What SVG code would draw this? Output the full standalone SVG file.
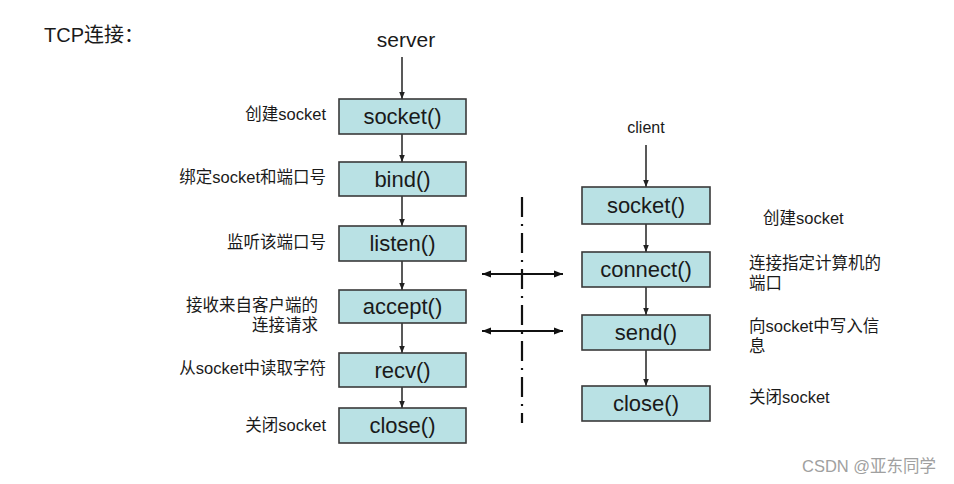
<svg xmlns="http://www.w3.org/2000/svg" width="954" height="484" viewBox="0 0 954 484">
<defs>
<style>
.box{fill:#b9e1e4;stroke:#3a3a3a;stroke-width:1.6}
.bt{font-family:"Liberation Sans","Noto Sans CJK SC",sans-serif;font-size:22px;fill:#1a1a1a;text-anchor:middle}
.lb{font-family:"Liberation Sans","Noto Sans CJK SC",sans-serif;font-size:16.5px;fill:#1a1a1a}
.r{text-anchor:end}
.ln{stroke:#222;stroke-width:1.5;fill:none}
.hz{stroke:#111;stroke-width:2.2;fill:none}
</style>
<marker id="ah" viewBox="0 0 10 10" refX="10" refY="5" markerWidth="7" markerHeight="7" orient="auto-start-reverse" markerUnits="userSpaceOnUse">
<path d="M0,1 L10,5 L0,9 z" fill="#222"/>
</marker>
<marker id="ah2" viewBox="0 0 10 10" refX="10" refY="5" markerWidth="9" markerHeight="9" orient="auto-start-reverse" markerUnits="userSpaceOnUse">
<path d="M0,1 L10,5 L0,9 z" fill="#111"/>
</marker>
</defs>
<rect width="954" height="484" fill="#fff"/>
<text x="44" y="42" class="lb" style="font-size:20px">TCP连接：</text>
<text x="406" y="47" class="bt" style="font-size:21px">server</text>
<text x="646" y="133" class="bt" style="font-size:16px">client</text>

<g id="connectors">
<line class="ln" x1="402" y1="57" x2="402" y2="99" marker-end="url(#ah)"/>
<line class="ln" x1="402" y1="134" x2="402" y2="162" marker-end="url(#ah)"/>
<line class="ln" x1="402" y1="196" x2="402" y2="226" marker-end="url(#ah)"/>
<line class="ln" x1="402" y1="261" x2="402" y2="290" marker-end="url(#ah)"/>
<line class="ln" x1="402" y1="323" x2="402" y2="353" marker-end="url(#ah)"/>
<line class="ln" x1="402" y1="387" x2="402" y2="408" marker-end="url(#ah)"/>
<line class="ln" x1="646" y1="145" x2="646" y2="187" marker-end="url(#ah)"/>
<line class="ln" x1="646" y1="224" x2="646" y2="252" marker-end="url(#ah)"/>
<line class="ln" x1="646" y1="287" x2="646" y2="315" marker-end="url(#ah)"/>
<line class="ln" x1="646" y1="350" x2="646" y2="386" marker-end="url(#ah)"/>
<line x1="522" y1="197" x2="522" y2="423" stroke="#111" stroke-width="2.2" stroke-dasharray="20,7,2,7"/>
<line class="hz" x1="482" y1="274" x2="563" y2="274" marker-start="url(#ah2)" marker-end="url(#ah2)"/>
<line class="hz" x1="482" y1="331" x2="563" y2="331" marker-start="url(#ah2)" marker-end="url(#ah2)"/>
</g>

<g id="s-socket"><rect class="box" x="339" y="99" width="127" height="35"/><text class="bt" x="402.5" y="124">socket()</text><text class="lb r" x="326" y="120">创建socket</text></g>
<g id="s-bind"><rect class="box" x="339" y="162" width="127" height="34"/><text class="bt" x="402.5" y="187">bind()</text><text class="lb r" x="326" y="183">绑定socket和端口号</text></g>
<g id="s-listen"><rect class="box" x="339" y="226" width="127" height="35"/><text class="bt" x="402.5" y="251">listen()</text><text class="lb r" x="326" y="248">监听该端口号</text></g>
<g id="s-accept"><rect class="box" x="339" y="290" width="127" height="33"/><text class="bt" x="402.5" y="314">accept()</text><text class="lb r" x="318" y="311">接收来自客户端的</text><text class="lb r" x="318" y="331">连接请求</text></g>
<g id="s-recv"><rect class="box" x="339" y="353" width="127" height="34"/><text class="bt" x="402.5" y="378">recv()</text><text class="lb r" x="326" y="374">从socket中读取字符</text></g>
<g id="s-close"><rect class="box" x="339" y="408" width="127" height="35"/><text class="bt" x="402.5" y="433">close()</text><text class="lb r" x="326" y="431">关闭socket</text></g>

<g id="c-socket"><rect class="box" x="582" y="187" width="128" height="37"/><text class="bt" x="646" y="213">socket()</text><text class="lb" x="763" y="224">创建socket</text></g>
<g id="c-connect"><rect class="box" x="582" y="252" width="128" height="35"/><text class="bt" x="646" y="277">connect()</text><text class="lb" x="749" y="269">连接指定计算机的</text><text class="lb" x="749" y="289">端口</text></g>
<g id="c-send"><rect class="box" x="582" y="315" width="128" height="35"/><text class="bt" x="646" y="340">send()</text><text class="lb" x="749" y="332">向socket中写入信</text><text class="lb" x="749" y="352">息</text></g>
<g id="c-close"><rect class="box" x="582" y="386" width="128" height="35"/><text class="bt" x="646" y="411">close()</text><text class="lb" x="749" y="403">关闭socket</text></g>

<text x="802" y="472" style="font-family:'Liberation Sans','Noto Sans CJK SC',sans-serif;font-size:16.5px;fill:#a0a0a0">CSDN @亚东同学</text>
</svg>
